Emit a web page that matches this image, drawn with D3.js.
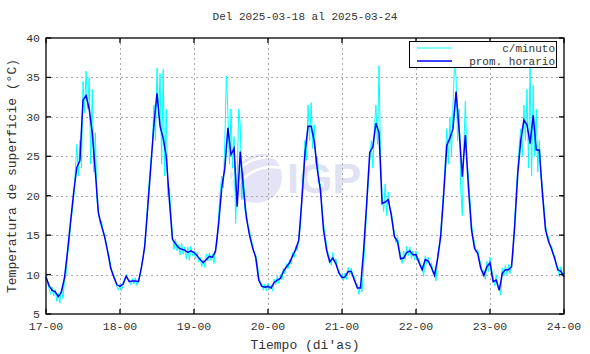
<!DOCTYPE html>
<html><head><meta charset="utf-8">
<script src="https://cdn.jsdelivr.net/npm/d3@7"></script>
<style>
body{margin:0;background:#fff;}
text{font-family:"Liberation Mono","DejaVu Sans Mono",monospace;fill:#333;}
</style>
</head><body><svg id="c" width="590" height="354"></svg>
<script>
const chartTitle = "Del 2025-03-18 al 2025-03-24";
const xAxisTitle = "Tiempo (di'as)";
const yAxisTitle = "Temperatura de superficie (°C)";
const dayLabels = ["17-00","18-00","19-00","20-00","21-00","22-00","23-00","24-00"];
const yTickValues = [5,10,15,20,25,30,35,40];
const seriesNames = ["c/minuto","prom. horario"];

// hourly averages (hour 0 = 17-00)
const hourlyAvg = [
9.7,8.6,8.0,7.8,7.2,7.8,9.6,13.0,16.8,20.5,23.6,24.5,32.1,32.7,31.0,28.0,23.0,17.8,16.2,14.8,12.9,10.8,9.7,8.7,
8.5,8.8,9.8,9.1,9.2,9.2,9.1,11.0,13.5,18.5,23.7,29.0,33.0,28.8,27.3,25.0,19.5,14.5,13.9,13.4,13.2,13.1,12.8,13.0,
12.8,12.4,11.9,11.5,11.9,12.3,12.2,13.0,16.5,21.0,23.5,28.6,25.2,26.0,18.6,25.6,21.1,17.2,15.0,13.4,12.2,9.3,8.5,8.4,
8.5,8.3,9.0,9.3,9.5,10.4,11.0,11.5,12.4,13.2,14.4,19.5,25.4,28.8,28.8,26.9,23.3,20.7,15.7,13.1,11.6,12.1,11.4,10.2,
9.6,9.7,10.4,10.4,9.3,8.3,8.3,13.0,19.0,25.5,26.2,29.2,28.0,19.0,19.2,19.5,17.5,14.8,14.2,12.0,12.1,12.8,13.0,12.5,
12.5,11.5,10.6,11.9,11.7,10.9,9.9,12.0,14.8,20.3,26.4,27.3,28.5,33.2,28.3,22.4,27.7,21.1,15.7,13.3,12.7,10.8,9.9,11.0,
11.5,9.1,9.3,8.0,10.2,10.6,10.6,11.0,16.1,22.8,27.1,29.6,29.0,26.6,30.2,25.8,25.8,20.3,15.7,14.2,13.2,12.0,10.6,10.4,
9.7
];

// per-minute readings, sampled every 30 minutes
const perMinute = [
9.9,9.0,8.2,7.5,8.4,7.3,8.1,6.6,7.6,6.4,8.2,7.0,9.2,10.0,12.5,14.0,16.5,18.0,19.8,23.0,26.5,22.5,27.0,23.5,34.5,30.5,35.8,31.0,35.0,24.0,33.5,23.0,28.0,19.5,18.0,16.5,16.8,15.5,15.2,14.0,13.0,12.4,11.0,10.3,9.9,9.2,8.5,8.0,
8.8,8.0,8.6,9.3,10.0,9.5,9.3,8.7,9.5,8.8,9.6,8.6,9.3,9.8,11.2,12.0,13.8,16.0,19.5,22.0,24.5,26.5,31.5,27.0,36.2,30.0,35.5,24.0,36.0,22.5,31.0,20.0,21.0,18.0,15.0,13.2,14.5,13.0,13.8,12.5,14.0,12.6,13.5,12.0,13.5,11.8,13.6,12.4,
13.0,12.0,12.8,11.6,12.2,11.0,11.9,10.9,12.6,11.7,12.8,11.8,12.6,11.4,13.5,14.0,17.5,20.5,22.5,21.0,27.0,35.2,30.5,24.0,31.0,23.5,27.5,16.5,22.0,31.0,29.0,19.5,23.0,18.0,17.8,16.3,15.5,14.5,13.8,12.8,12.5,11.5,9.8,9.0,8.8,8.0,8.8,7.9,
8.9,8.1,8.6,7.9,9.4,8.7,9.8,8.9,10.0,9.3,10.8,10.1,11.4,10.7,11.9,11.3,12.8,12.2,13.6,13.0,14.8,16.0,20.5,23.0,27.0,24.5,31.5,27.0,31.8,26.0,29.0,24.0,25.0,21.5,21.5,18.5,16.5,15.0,13.8,12.6,12.2,11.2,12.8,11.6,12.0,10.8,10.6,9.8,
10.0,9.2,10.2,9.4,10.9,10.0,10.8,9.9,9.8,8.8,8.8,7.5,8.9,7.8,11.0,14.5,18.5,21.5,24.5,27.0,23.5,28.5,31.5,26.5,36.5,25.0,20.0,18.0,21.5,17.5,20.5,18.5,18.0,16.5,15.2,14.0,14.8,13.5,12.5,11.4,13.0,11.9,13.6,12.4,13.5,12.0,13.0,11.9,
13.0,11.8,12.1,11.0,11.2,9.8,12.4,11.3,12.2,11.1,11.5,10.3,10.4,9.2,12.5,13.5,15.5,18.0,21.0,24.5,28.5,24.0,30.0,25.0,31.5,36.8,35.0,27.0,31.0,21.0,17.5,26.0,32.0,24.5,22.5,19.5,16.5,14.8,14.0,12.8,13.2,12.0,11.5,10.2,10.6,9.4,11.7,10.4,
12.2,10.8,9.8,8.6,10.0,8.7,8.6,7.4,10.8,9.8,11.2,10.0,11.3,10.1,11.6,12.5,17.0,20.5,23.5,26.5,28.5,25.0,31.5,27.0,33.5,23.5,36.8,22.5,34.0,25.0,31.0,23.0,27.0,22.5,21.0,18.5,16.2,15.0,14.8,13.6,13.6,12.5,12.4,11.2,11.0,9.7,11.0,9.8,
10.2
];

const svg = d3.select("#c");
const L = 46, R = 564, T = 38, B = 314;
const x = d3.scaleLinear().domain([0, (dayLabels.length - 1) * 24]).range([L, R]);
const y = d3.scaleLinear().domain([5, 40]).range([B, T]);

svg.append("rect").attr("width",590).attr("height",354).attr("fill","#fff");

// watermark
const wm = svg.append("g").attr("opacity",0.85);
wm.append("circle").attr("cx",256).attr("cy",177).attr("r",26).attr("fill","#e0e0f5");
wm.append("path").attr("d","M236,162 A30,30 0 0 1 262,151 M232,172 A36,36 0 0 1 268,153 M231,182 A40,40 0 0 1 276,158 M234,192 A42,42 0 0 1 281,168")
  .attr("fill","none").attr("stroke","#fff").attr("stroke-width",2.5);
wm.append("path").attr("d","M234,186 A24,24 0 0 0 256,203 A26,26 0 0 1 230,177 Z").attr("fill","#eef1fb");
wm.append("text").attr("x",287).attr("y",193).text("IGP")
  .style("font-family","'Liberation Sans',Arial,sans-serif").style("font-weight","bold")
  .style("font-size","43px").style("fill","#dcdcf3");

// grid
const grid = svg.append("g").attr("stroke","#a8a8a8").attr("stroke-width",1).attr("stroke-dasharray","2,3");
dayLabels.forEach((d,i)=>{ if(i>0 && i<dayLabels.length-1){ const xx=Math.round(x(i*24))+0.5;
  grid.append("line").attr("x1",xx).attr("x2",xx).attr("y1",T).attr("y2",B);} });
yTickValues.forEach(v=>{ if(v>5 && v<40){ const yy=Math.round(y(v))+0.5;
  grid.append("line").attr("x1",L).attr("x2",R).attr("y1",yy).attr("y2",yy);} });

// series
const lineMin = d3.line().x((d,i)=>x(i*0.5)).y(d=>y(d));
svg.append("path").datum(perMinute).attr("d",lineMin).attr("fill","none").attr("stroke","#00ffff").attr("stroke-width",1);
const lineHr = d3.line().x((d,i)=>x(i)).y(d=>y(d));
svg.append("path").datum(hourlyAvg).attr("d",lineHr).attr("fill","none").attr("stroke","#0000ff").attr("stroke-width",1.5);

// frame & ticks
const fr = svg.append("g").attr("stroke","#000").attr("stroke-width",1.3);
fr.append("rect").attr("x",L).attr("y",T).attr("width",R-L).attr("height",B-T).attr("fill","none");
dayLabels.forEach((d,i)=>{ const xx=x(i*24);
  fr.append("line").attr("x1",xx).attr("x2",xx).attr("y1",B).attr("y2",B-5);
  fr.append("line").attr("x1",xx).attr("x2",xx).attr("y1",T).attr("y2",T+5); });
yTickValues.forEach(v=>{ const yy=y(v);
  fr.append("line").attr("x1",L).attr("x2",L+5).attr("y1",yy).attr("y2",yy);
  fr.append("line").attr("x1",R).attr("x2",R-5).attr("y1",yy).attr("y2",yy); });

// tick labels
dayLabels.forEach((d,i)=>{ svg.append("text").attr("x",x(i*24)).attr("y",B+16).attr("text-anchor","middle").style("font-size","11.5px").text(d); });
yTickValues.forEach(v=>{ svg.append("text").attr("x",L-6).attr("y",y(v)+4).attr("text-anchor","end").style("font-size","11.5px").text(v); });

// titles
svg.append("text").attr("x",(L+R)/2).attr("y",20).attr("text-anchor","middle").style("font-size","11px").text(chartTitle);
svg.append("text").attr("x",(L+R)/2).attr("y",349).attr("text-anchor","middle").style("font-size","13px").text(xAxisTitle);
svg.append("text").attr("transform",`translate(16,${(T+B)/2}) rotate(-90)`).attr("text-anchor","middle").style("font-size","13px").text(yAxisTitle);

// legend
const lg = svg.append("g");
lg.append("rect").attr("x",409.5).attr("y",41.5).attr("width",147).attr("height",26).attr("fill","#fff").attr("stroke","#000").attr("stroke-width",1);
const colors = ["#00ffff","#0000ff"];
seriesNames.forEach((s,i)=>{
  const yy = 48 + i*13;
  lg.append("line").attr("x1",417).attr("x2",452).attr("y1",yy).attr("y2",yy).attr("stroke",colors[i]).attr("stroke-width",i?1.5:1);
  lg.append("text").attr("x",555).attr("y",yy+3.5).attr("text-anchor","end").style("font-size","11px").text(s);
});
</script>
</body></html>
